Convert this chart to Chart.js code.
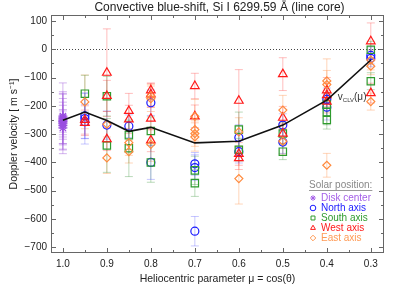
<!DOCTYPE html>
<html>
<head>
<meta charset="utf-8">
<script src="https://cdn.jsdelivr.net/npm/chart.js@4.4.1/dist/chart.umd.min.js"></script>
<style>
  html, body { margin: 0; padding: 0; background: #fff; }
</style>
</head>
<body>
<canvas id="grafico" width="399" height="285"></canvas>
<script>
// Tick labels
const xTickValues = [1.0, 0.9, 0.8, 0.7, 0.6, 0.5, 0.4, 0.3];
const yTickValues = [100, 0, -100, -200, -300, -400, -500, -600, -700];

// Centre-to-limb curve
const clvMu = [1.0, 0.95, 0.9, 0.85, 0.8, 0.7, 0.6, 0.5, 0.4, 0.3];
const clvV = [-251, -222, -252, -290, -276, -331, -325, -268, -180, -38];

// Disk center
const diskMu = [1.0, 1.0, 1.0, 1.0, 1.0, 1.0, 1.0, 1.0, 1.0, 1.0];
const diskV = [-236, -242, -246, -250, -253, -256, -260, -264, -270, -278];
const diskErr = [117, 92, 72, 52, 40, 100, 73, 105, 40, 60];

// North axis
const northMu = [0.95, 0.95, 0.95, 0.9, 0.85, 0.8, 0.8, 0.7, 0.7, 0.7, 0.6, 0.6, 0.5, 0.5, 0.4, 0.4, 0.3, 0.3];
const northV = [-235, -245, -256, -268, -272, -189, -400, -405, -418, -643, -312, -362, -268, -328, -177, -205, -22, -32];
const northErr = [80, 90, 60, 50, 40, 45, 60, 40, 45, 52, 45, 40, 40, 40, 40, 45, 30, 30];

// South axis
const southMu = [0.95, 0.9, 0.9, 0.85, 0.85, 0.8, 0.8, 0.7, 0.7, 0.6, 0.6, 0.5, 0.5, 0.4, 0.4, 0.4, 0.3, 0.3];
const southV = [-157, -166, -340, -304, -350, -289, -400, -428, -473, -284, -355, -298, -362, -195, -222, -250, -2, -113];
const southErr = [65, 70, 95, 50, 100, 50, 70, 50, 47, 62, 40, 40, 28, 40, 45, 32, 30, 30];

// West axis
const westMu = [0.95, 0.95, 0.9, 0.9, 0.9, 0.85, 0.85, 0.8, 0.8, 0.8, 0.8, 0.7, 0.7, 0.6, 0.6, 0.6, 0.5, 0.5, 0.5, 0.4, 0.4, 0.4, 0.3, 0.3];
const westV = [-250, -260, -83, -165, -318, -218, -248, -145, -160, -245, -322, -130, -237, -182, -370, -385, -88, -242, -298, -145, -162, -185, 28, -155];
const westErr = [50, 45, 155, 55, 40, 62, 50, 25, 40, 40, 40, 45, 40, 110, 40, 40, 58, 40, 35, 45, 40, 40, 65, 35];

// East axis
const eastMu = [0.95, 0.9, 0.9, 0.85, 0.85, 0.8, 0.8, 0.8, 0.7, 0.7, 0.7, 0.7, 0.6, 0.6, 0.5, 0.5, 0.4, 0.4, 0.4, 0.3, 0.3, 0.3];
const eastV = [-186, -265, -384, -330, -362, -165, -175, -336, -237, -284, -298, -310, -292, -457, -215, -325, -112, -125, -410, -38, -60, -185];
const eastErr = [95, 45, 55, 45, 40, 40, 45, 60, 60, 40, 45, 50, 50, 90, 52, 45, 78, 50, 42, 35, 30, 30];

const FONT = "'Liberation Sans', Arial, sans-serif";

const toPoints = (mu, v) => mu.map((m, i) => ({ x: m, y: v[i] }));

function series(label, mu, v, err, style, radius, color, errColor) {
  return {
    label: label,
    data: toPoints(mu, v),
    errors: err,
    errColor: errColor,
    showLine: false,
    pointStyle: style,
    pointRadius: radius,
    pointBorderWidth: 1.2,
    pointBorderColor: color,
    pointBackgroundColor: "rgba(0,0,0,0)",
  };
}

const datasets = [
  {
    label: "vCLV",
    data: toPoints(clvMu, clvV),
    showLine: true,
    borderColor: "#111",
    borderWidth: 1.6,
    pointRadius: 0,
  },
  series("East axis", eastMu, eastV, eastErr, "rectRot", 4, "#ff8a3d", "rgba(255,150,80,0.4)"),
  series("West axis", westMu, westV, westErr, "triangle", 5, "#ff1a1a", "rgba(255,70,70,0.35)"),
  series("South axis", southMu, southV, southErr, "rect", 5.2, "#2e9b2e", "rgba(60,150,60,0.35)"),
  series("North axis", northMu, northV, northErr, "circle", 4, "#1a1aff", "rgba(70,70,255,0.3)"),
  series("Disk center", diskMu, diskV, diskErr, "star", 4.5, "#9a4ee0", "rgba(160,90,220,0.45)"),
];

const legendItems = [
  { text: "Disk center", style: "star", color: "#a45ee8" },
  { text: "North axis", style: "circle", color: "#1a1aff" },
  { text: "South axis", style: "rect", color: "#2e9b2e" },
  { text: "West axis", style: "triangle", color: "#ff1a1a" },
  { text: "East axis", style: "rectRot", color: "#ff9a55" },
];

const decor = {
  id: "decor",
  beforeDatasetsDraw(chart) {
    const ctx = chart.ctx;
    const xs = chart.scales.x;
    const ys = chart.scales.y;
    const area = chart.chartArea;
    ctx.save();
    // zero line
    ctx.strokeStyle = "#444";
    ctx.lineWidth = 1;
    ctx.setLineDash([1, 2]);
    const y0 = Math.round(ys.getPixelForValue(0)) + 0.5;
    ctx.beginPath();
    ctx.moveTo(area.left, y0);
    ctx.lineTo(area.right, y0);
    ctx.stroke();
    ctx.setLineDash([]);
    // error bars
    chart.data.datasets.forEach((ds) => {
      if (!ds.errors) return;
      ctx.strokeStyle = ds.errColor;
      ds.data.forEach((p, j) => {
        const x = xs.getPixelForValue(p.x);
        const yt = ys.getPixelForValue(p.y + ds.errors[j]);
        const yb = ys.getPixelForValue(p.y - ds.errors[j]);
        ctx.beginPath();
        ctx.moveTo(x, yt);
        ctx.lineTo(x, yb);
        ctx.moveTo(x - 4, yt);
        ctx.lineTo(x + 4, yt);
        ctx.moveTo(x - 4, yb);
        ctx.lineTo(x + 4, yb);
        ctx.stroke();
      });
    });
    ctx.restore();
  },
  afterDraw(chart) {
    const ctx = chart.ctx;
    const xs = chart.scales.x;
    const ys = chart.scales.y;
    const a = chart.chartArea;
    ctx.save();
    // frame and inward ticks
    ctx.strokeStyle = "#666";
    ctx.lineWidth = 1;
    ctx.strokeRect(a.left + 0.5, a.top + 0.5, a.right - a.left - 1, a.bottom - a.top - 1);
    ctx.beginPath();
    for (let k = 6; k <= 20; k++) {
      const x = Math.round(xs.getPixelForValue(k * 0.05)) + 0.5;
      const len = k % 2 === 0 ? 5 : 3;
      ctx.moveTo(x, a.bottom);
      ctx.lineTo(x, a.bottom - len);
      ctx.moveTo(x, a.top);
      ctx.lineTo(x, a.top + len);
    }
    for (let v = -700; v <= 100; v += 50) {
      const y = Math.round(ys.getPixelForValue(v)) + 0.5;
      const len = v % 100 === 0 ? 5 : 3;
      ctx.moveTo(a.left, y);
      ctx.lineTo(a.left + len, y);
      ctx.moveTo(a.right, y);
      ctx.lineTo(a.right - len, y);
    }
    ctx.stroke();

    // title
    ctx.fillStyle = "#222";
    ctx.font = "12px " + FONT;
    ctx.textAlign = "center";
    ctx.textBaseline = "middle";
    ctx.fillText("Convective blue-shift, Si I 6299.59 Å (line core)", (a.left + a.right) / 2 + 2, 8);

    // curve label
    let lx = xs.getPixelForValue(0.375);
    const ly = ys.getPixelForValue(-170);
    ctx.textAlign = "left";
    ctx.fillStyle = "#333";
    ctx.font = "10px " + FONT;
    ctx.fillText("v", lx, ly);
    lx += ctx.measureText("v").width;
    ctx.font = "6px " + FONT;
    ctx.fillText("CLV", lx, ly + 3);
    lx += ctx.measureText("CLV").width;
    ctx.font = "10px " + FONT;
    ctx.fillText("(μ)", lx, ly);

    // legend
    const gx = a.right - 75;
    let gy = 185;
    ctx.font = "10px " + FONT;
    ctx.fillStyle = "#888";
    ctx.fillText("Solar position:", gx, gy);
    const w = ctx.measureText("Solar position:").width;
    ctx.strokeStyle = "#999";
    ctx.beginPath();
    ctx.moveTo(gx, gy + 5.5);
    ctx.lineTo(gx + w, gy + 5.5);
    ctx.stroke();
    gy += 3;
    legendItems.forEach((it) => {
      gy += 10;
      ctx.strokeStyle = it.color;
      ctx.fillStyle = "rgba(0,0,0,0)";
      Chart.helpers.drawPoint(ctx, { pointStyle: it.style, radius: 2.8, borderWidth: 1 }, gx + 4, gy);
      ctx.fillStyle = it.color;
      ctx.fillText(it.text, gx + 12, gy);
    });
    ctx.restore();
  },
};

const config = {
  type: "scatter",
  data: { datasets: datasets },
  options: {
    responsive: false,
    animation: false,
    devicePixelRatio: 1,
    layout: { padding: { top: 15, right: 15, left: 0, bottom: 0 } },
    plugins: {
      legend: { display: false },
      tooltip: { enabled: false },
    },
    scales: {
      x: {
        type: "linear",
        reverse: true,
        min: 0.27,
        max: 1.027,
        grid: { display: false, drawTicks: false },
        border: { display: false },
        afterBuildTicks: (axis) => {
          axis.ticks = xTickValues.map((v) => ({ value: v }));
        },
        afterFit: (axis) => {
          axis.height = 32;
        },
        ticks: {
          padding: 5,
          color: "#222",
          font: { family: FONT, size: 10 },
          callback: (v) => Number(v).toFixed(1),
        },
        title: {
          display: true,
          text: "Heliocentric parameter μ = cos(θ)",
          color: "#222",
          font: { family: FONT, size: 10.5 },
          padding: { top: 0, bottom: 0 },
        },
      },
      y: {
        type: "linear",
        min: -720,
        max: 121,
        grid: { display: false, drawTicks: false },
        border: { display: false },
        afterBuildTicks: (axis) => {
          axis.ticks = yTickValues.map((v) => ({ value: v }));
        },
        afterFit: (axis) => {
          axis.width = 51;
        },
        ticks: {
          padding: 4,
          color: "#222",
          font: { family: FONT, size: 10 },
          callback: (v) => (v < 0 ? "\u2212" + Math.abs(v) : String(v)),
        },
        title: {
          display: true,
          text: "Doppler velocity [ m s\u207B\u00B9]",
          color: "#222",
          font: { family: FONT, size: 10.5 },
          padding: { top: 8, bottom: 0 },
        },
      },
    },
  },
  plugins: [decor],
};

const myChart = new Chart(document.getElementById("grafico"), config);
</script>
</body>
</html>
